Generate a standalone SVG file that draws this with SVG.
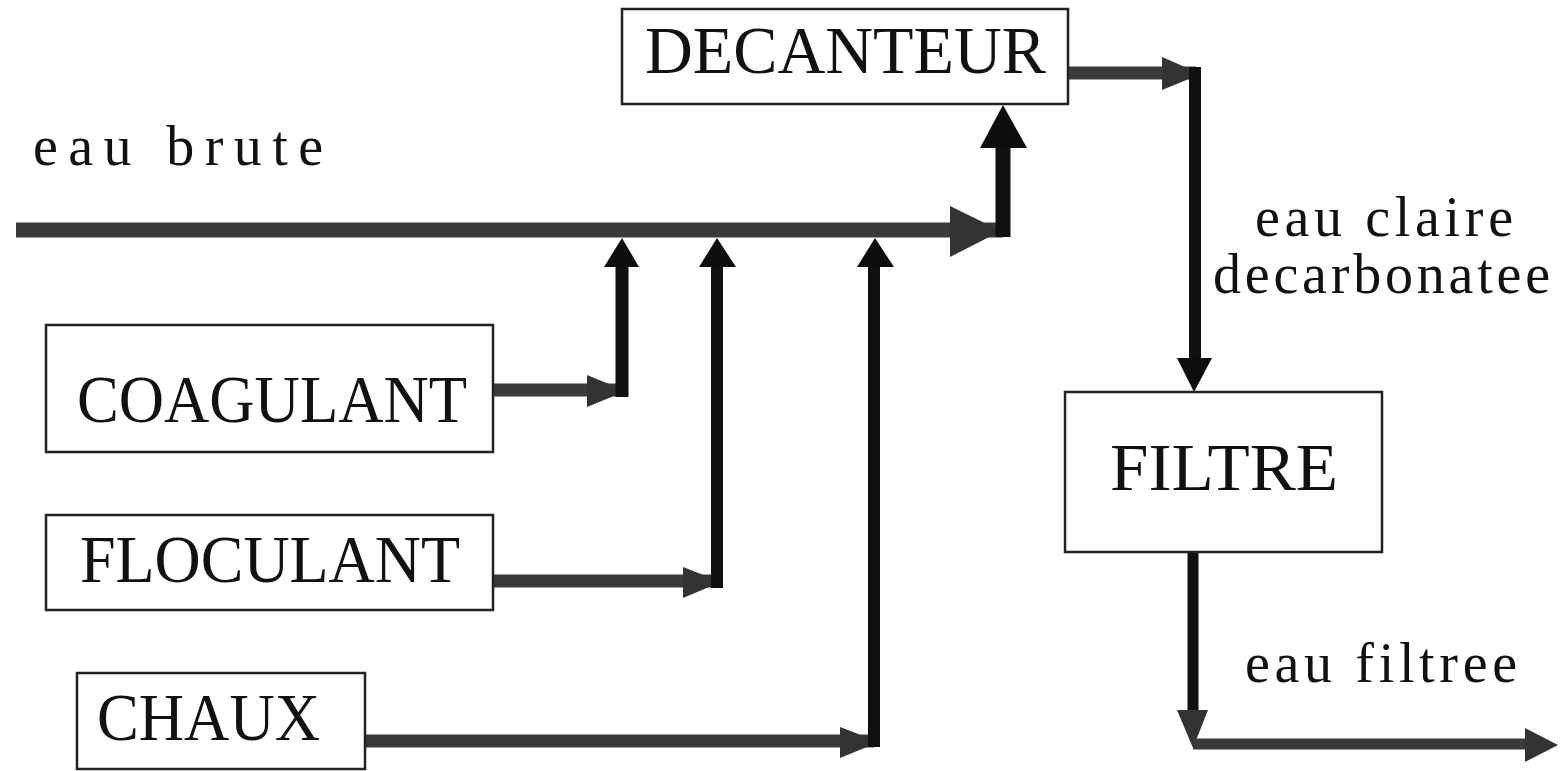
<svg xmlns="http://www.w3.org/2000/svg" width="1560" height="771" viewBox="0 0 1560 771">
<style>
.box{fill:#fff;stroke:#222;stroke-width:2.5}
.bt{font-family:"Liberation Serif","DejaVu Serif",serif;font-size:68px;fill:#111}
.lb{font-family:"Liberation Serif","DejaVu Serif",serif;font-size:56px;fill:#111}
.h{stroke:#3a3a3a;fill:none}
.v{stroke:#101010;fill:none}
.hh{fill:#333}
.vh{fill:#0d0d0d}
</style>
<rect width="1560" height="771" fill="#fff"/>
<g id="connectors">
  <line class="h" x1="16" y1="230" x2="1003" y2="230" stroke-width="15"/>
  <polygon class="hh" points="950,206 1001,231 950,257"/>
  <line class="v" x1="1003" y1="237" x2="1003" y2="146" stroke-width="15"/>
  <polygon class="vh" points="980,148 1003,105 1027,148"/>
  <line class="h" x1="1068" y1="73" x2="1196" y2="73" stroke-width="13"/>
  <polygon class="hh" points="1162,57 1201,74 1162,90"/>
  <line class="v" x1="1195" y1="67" x2="1195" y2="360" stroke-width="12"/>
  <polygon class="vh" points="1177,358 1194,392 1212,358"/>
  <line class="v" x1="1193" y1="552" x2="1193" y2="712" stroke-width="11"/>
  <polygon class="hh" points="1177,710 1193,748 1208,710"/>
  <line class="h" x1="1193" y1="744" x2="1527" y2="744" stroke-width="11"/>
  <polygon class="hh" points="1525,728 1558,745 1525,762"/>
  <line class="h" x1="493" y1="390" x2="622" y2="390" stroke-width="13"/>
  <polygon class="hh" points="587,375 626,391 587,407"/>
  <line class="v" x1="622" y1="397" x2="622" y2="264" stroke-width="13"/>
  <polygon class="vh" points="604,267 622,238 639,267"/>
  <line class="h" x1="493" y1="581" x2="717" y2="581" stroke-width="13"/>
  <polygon class="hh" points="683,567 721,582 683,598"/>
  <line class="v" x1="717" y1="588" x2="717" y2="264" stroke-width="12"/>
  <polygon class="vh" points="699,267 717,238 736,267"/>
  <line class="h" x1="365" y1="741" x2="874" y2="741" stroke-width="13"/>
  <polygon class="hh" points="840,727 879,742 840,758"/>
  <line class="v" x1="874" y1="747" x2="874" y2="264" stroke-width="12"/>
  <polygon class="vh" points="857,267 875,238 894,267"/>
</g>
<g id="decanteur">
  <rect class="box" x="622" y="9" width="446" height="95"/>
  <text class="bt" x="645" y="73" font-size="70" textLength="401" lengthAdjust="spacingAndGlyphs">DECANTEUR</text>
</g>
<g id="coagulant">
  <rect class="box" x="46" y="325" width="447" height="127"/>
  <text class="bt" x="77" y="422" textLength="390" lengthAdjust="spacingAndGlyphs">COAGULANT</text>
</g>
<g id="floculant">
  <rect class="box" x="46" y="515" width="447" height="95"/>
  <text class="bt" x="80" y="582" textLength="380" lengthAdjust="spacingAndGlyphs">FLOCULANT</text>
</g>
<g id="chaux">
  <rect class="box" x="77" y="673" width="288" height="96"/>
  <text class="bt" x="97" y="740" textLength="223" lengthAdjust="spacingAndGlyphs">CHAUX</text>
</g>
<g id="filtre">
  <rect class="box" x="1065" y="392" width="317" height="160"/>
  <text class="bt" x="1110" y="490" textLength="228" lengthAdjust="spacingAndGlyphs">FILTRE</text>
</g>
<g id="labels">
  <text class="lb" x="33" y="165" textLength="290" lengthAdjust="spacing">eau brute</text>
  <text class="lb" x="1255" y="236" textLength="258" lengthAdjust="spacing">eau claire</text>
  <text class="lb" x="1213" y="293" textLength="337" lengthAdjust="spacing">decarbonatee</text>
  <text class="lb" x="1245" y="682" textLength="272" lengthAdjust="spacing">eau filtree</text>
</g>
</svg>
